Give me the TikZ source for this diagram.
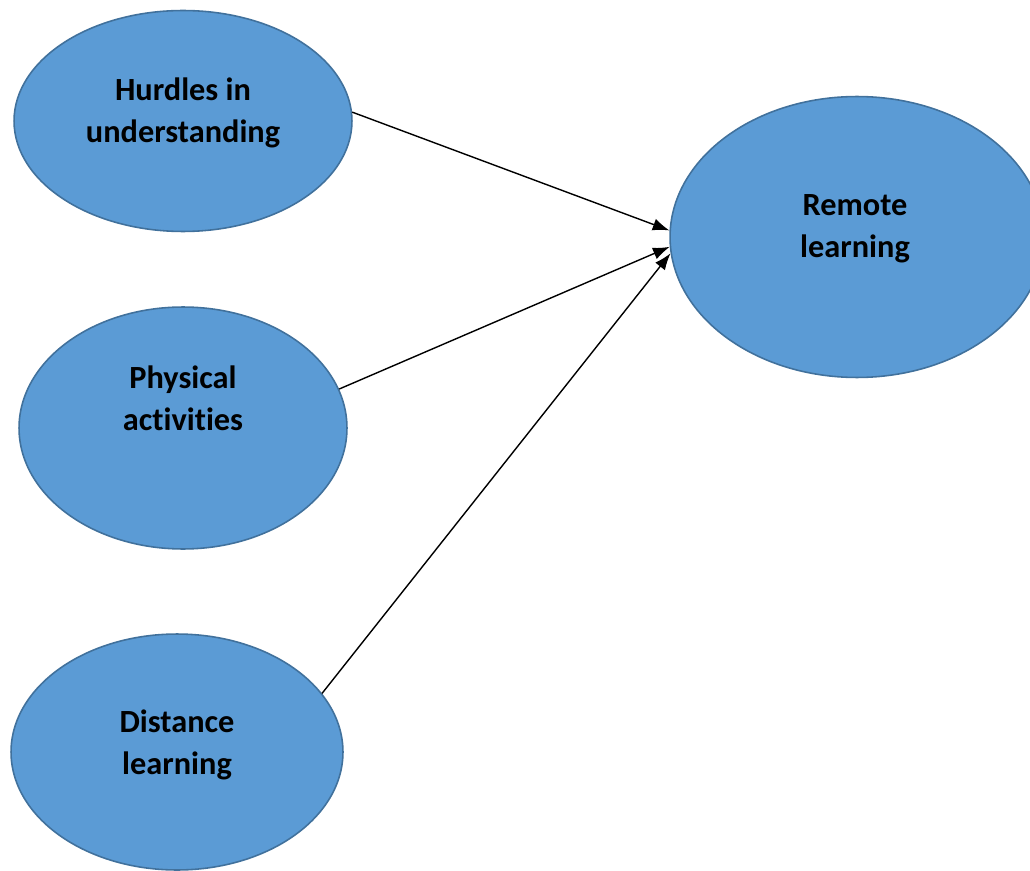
\documentclass[tikz,border=0pt]{standalone}
\usepackage{fontspec}
\setmainfont{Carlito}[Ligatures={NoCommon,NoContextual}]
\usetikzlibrary{shapes.geometric,arrows.meta}
\definecolor{bubblefill}{HTML}{5B9BD5}
\definecolor{bubbleline}{HTML}{41719C}
\tikzset{
  bubble/.style={ellipse,draw=bubbleline,fill=bubblefill,line width=0.9pt,inner sep=0pt},
  caption/.style={align=center,font=\fontsize{18.4}{24}\selectfont\bfseries},
  link/.style={-{Latex[length=9.5pt,width=7pt]},line width=0.8pt}
}
\begin{document}
\begin{tikzpicture}[x=0.02cm,y=-0.02cm]
  \useasboundingbox (0,0) rectangle (1030,871);

  \node[bubble,minimum width=6.76cm,minimum height=4.42cm] (hurdles) at (183,121) {};
  \node[caption] (hurdlestext) at (183,113) {Hurdles in\\understanding};

  \node[bubble,minimum width=6.56cm,minimum height=4.84cm] (physical) at (183,428) {};
  \node[caption] (physicaltext) at (183,398) {Physical\\activities};

  \node[bubble,minimum width=6.64cm,minimum height=4.72cm] (distance) at (177,752) {};
  \node[caption] (distancetext) at (177,745) {Distance\\learning};

  \node[bubble,minimum width=7.48cm,minimum height=5.62cm] (remote) at (857,237) {};
  \node[caption] (remotetext) at (855,229) {Remote\\learning};

  \draw[link] (hurdles.3) -- (remote.178);
  \draw[link] (physical.14) -- (remote.183);
  \draw[link] (distance.22) -- (remote.185);

\end{tikzpicture}
\end{document}
